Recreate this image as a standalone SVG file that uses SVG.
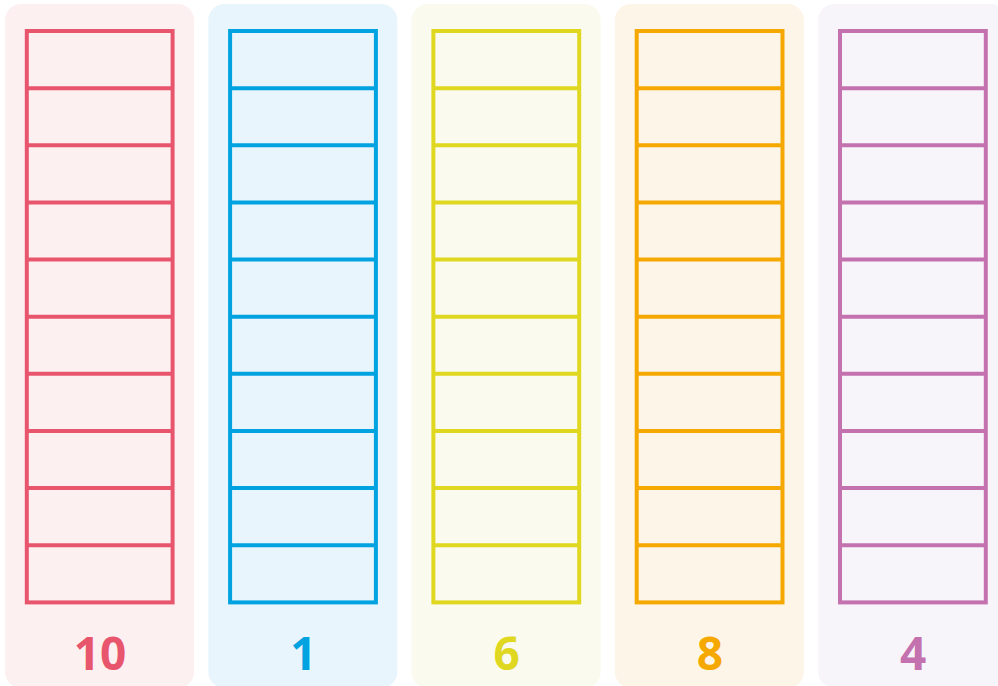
<svg xmlns="http://www.w3.org/2000/svg" width="998" height="686" viewBox="0 0 998 686">
<defs>
<style>
.panel{stroke:none}
.tower{fill:none;stroke-width:4}
.num{font-family:"Open Sans","Liberation Sans",sans-serif;font-weight:bold;font-size:46px;text-anchor:middle}
</style>
<g id="ladder">
<rect x="0" y="0" width="145.8" height="571.4"/>
<path d="M0 57.14H145.8M0 114.28H145.8M0 171.42H145.8M0 228.56H145.8M0 285.7H145.8M0 342.84H145.8M0 399.98H145.8M0 457.12H145.8M0 514.26H145.8"/>
</g>
</defs>
<rect width="998" height="686" fill="#ffffff"/>
<g id="col1">
<rect class="panel" x="5" y="4" width="189" height="684" rx="16" fill="#FDF0F1"/>
<use href="#ladder" x="26.8" y="31" class="tower" stroke="#E8566E"/>
<text class="num" x="100" y="670" fill="#E8566E">10</text>
</g>
<g id="col2">
<rect class="panel" x="208.3" y="4" width="189" height="684" rx="16" fill="#E8F5FD"/>
<use href="#ladder" x="230.1" y="31" class="tower" stroke="#00A3E0"/>
<text class="num" x="303.3" y="670" fill="#00A3E0">1</text>
</g>
<g id="col3">
<rect class="panel" x="411.6" y="4" width="189" height="684" rx="16" fill="#FAFAEF"/>
<use href="#ladder" x="433.4" y="31" class="tower" stroke="#E0D820"/>
<text class="num" x="506.6" y="670" fill="#E0D820">6</text>
</g>
<g id="col4">
<rect class="panel" x="614.9" y="4" width="189" height="684" rx="16" fill="#FEF5E9"/>
<use href="#ladder" x="636.7" y="31" class="tower" stroke="#F5A800"/>
<text class="num" x="709.9" y="670" fill="#F5A800">8</text>
</g>
<g id="col5">
<rect class="panel" x="818.2" y="4" width="189" height="684" rx="16" fill="#F8F5FA"/>
<use href="#ladder" x="840" y="31" class="tower" stroke="#C471B0"/>
<text class="num" x="913.2" y="670" fill="#C471B0">4</text>
</g>
<g id="connectors"/>
</svg>
